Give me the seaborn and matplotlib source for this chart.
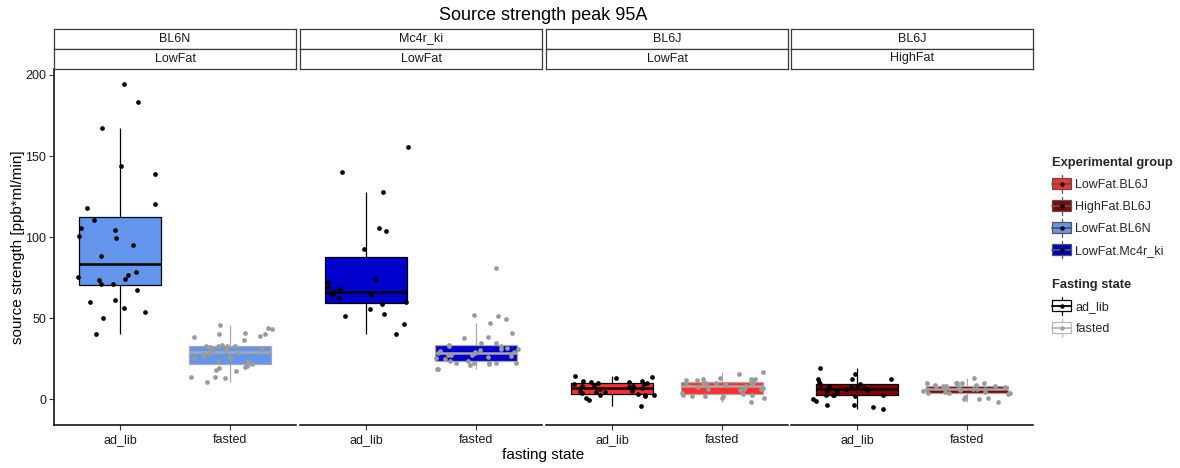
import numpy as np
import pandas as pd
import matplotlib
matplotlib.use("Agg")
import matplotlib.pyplot as plt
import seaborn as sns
from matplotlib.patches import Rectangle
from matplotlib.lines import Line2D
from matplotlib.legend_handler import HandlerBase

sns.set_theme(style="white")
plt.rcParams["font.family"] = ["Liberation Sans", "DejaVu Sans"]

# ---------------- data ----------------
states = ["ad_lib", "fasted"]
groups = ["LowFat.BL6J", "HighFat.BL6J", "LowFat.BL6N", "LowFat.Mc4r_ki"]
group_colors = ["#FF2E2E", "#8B0000", "#6495ED", "#0000CD"]
strip_top = ["BL6N", "Mc4r_ki", "BL6J", "BL6J"]
strip_bottom = ["LowFat", "LowFat", "LowFat", "HighFat"]
panel_groups = ["LowFat.BL6N", "LowFat.Mc4r_ki", "LowFat.BL6J", "HighFat.BL6J"]

bl6n_lf_adlib = [194.4, 183.1, 167.3, 144.1, 139.0, 120.5, 118.2, 110.4, 105.7, 104.4,
                 100.9, 99.3, 95.0, 88.6, 78.5, 76.7, 75.4, 74.2, 73.4, 71.3, 71.3,
                 67.2, 61.3, 60.0, 56.5, 54.1, 50.2, 40.5]
bl6n_lf_fasted = [45.8, 43.8, 43.2, 41.1, 40.1, 39.3, 40.1, 38.2, 36.6, 32.8, 32.6, 33.0,
                  33.5, 32.9, 32.1, 31.2, 31.2, 30.4, 29.2, 29.2, 28.8, 29.8, 28.0, 26.3,
                  25.3, 25.7, 26.3, 23.8, 23.6, 21.8, 21.0, 20.6, 19.3, 19.7, 18.1, 17.7,
                  13.6, 13.4, 14.0, 10.9]
mc4r_lf_adlib = [155.4, 140.0, 127.6, 105.7, 104.0, 92.7, 74.2, 72.6, 69.5, 68.2, 66.8,
                 65.2, 65.0, 64.3, 62.5, 60.0, 59.0, 55.5, 52.4, 51.2, 46.5, 40.5]
mc4r_lf_fasted = [80.8, 51.8, 49.5, 51.2, 47.1, 41.1, 38.2, 37.6, 34.5, 33.1, 33.3, 34.5,
                  32.9, 31.2, 31.9, 30.4, 29.6, 29.2, 29.2, 31.2, 28.4, 27.5, 27.5, 27.5,
                  28.4, 26.7, 25.9, 25.1, 23.8, 25.3, 23.8, 22.2, 21.6, 22.6, 22.6, 22.6,
                  22.6, 21.0, 18.7, 18.7]
bl6j_lf_adlib = [14.2, 13.5, 13.1, 11.5, 11.1, 10.7, 10.7, 9.8, 9.8, 9.4, 9.4, 9.0, 8.0,
                 8.0, 7.4, 7.0, 6.6, 6.6, 5.3, 4.9, 4.5, 4.5, 2.0, 3.9, 3.0, 3.3, 2.9,
                 2.4, 0.8, -0.2, -3.9]
bl6j_lf_fasted = [17.0, 15.4, 12.9, 12.7, 12.5, 12.3, 11.9, 11.9, 10.9, 10.9, 10.2, 9.8,
                  9.8, 9.2, 9.2, 9.2, 8.8, 8.2, 7.8, 7.2, 6.4, 6.4, 6.1, 5.7, 3.0, 3.7,
                  2.8, 3.3, 2.2, 2.0, 2.0, 1.0, 0.6, -1.9]
bl6j_hf_adlib = [19.3, 15.8, 12.3, 12.3, 12.3, 10.7, 9.6, 9.6, 9.0, 8.2, 7.6, 7.6, 7.0,
                 6.6, 6.6, 5.5, 4.9, 4.5, 2.9, 2.9, 2.9, 2.4, 2.0, 0.4, -1.3, -3.3, -3.7,
                 -4.7, -5.7]
bl6j_hf_fasted = [12.9, 10.3, 9.8, 9.8, 9.8, 9.8, 8.8, 8.8, 8.2, 8.2, 8.2, 7.8, 7.4, 6.8,
                  6.8, 6.1, 6.1, 6.1, 6.1, 5.7, 5.3, 4.7, 4.7, 4.1, 4.1, 3.7, 3.3, 1.6,
                  0.6, 0.0, 0.0, -1.5]

yticks = [0, 50, 100, 150, 200]

series = {
    ("LowFat.BL6N", "ad_lib"): bl6n_lf_adlib,
    ("LowFat.BL6N", "fasted"): bl6n_lf_fasted,
    ("LowFat.Mc4r_ki", "ad_lib"): mc4r_lf_adlib,
    ("LowFat.Mc4r_ki", "fasted"): mc4r_lf_fasted,
    ("LowFat.BL6J", "ad_lib"): bl6j_lf_adlib,
    ("LowFat.BL6J", "fasted"): bl6j_lf_fasted,
    ("HighFat.BL6J", "ad_lib"): bl6j_hf_adlib,
    ("HighFat.BL6J", "fasted"): bl6j_hf_fasted,
}
rows = []
for (g, s), vals in series.items():
    for v in vals:
        rows.append({"group": g, "state": s, "value": v})
df = pd.DataFrame(rows)

color_of = dict(zip(groups, group_colors))
edge_of = {"ad_lib": "#000000", "fasted": "#A8A8A8"}
point_of = {"ad_lib": "#000000", "fasted": "#9A9A9A"}

# ---------------- layout ----------------
W, H = 1180, 468
fig = plt.figure(figsize=(W / 100, H / 100), dpi=100)
lefts = [54, 300, 546, 791]
pw = 242
ptop, pbot = 68.5, 425
strip_h = 20

np.random.seed(3)
for i, g in enumerate(panel_groups):
    ax = fig.add_axes([lefts[i] / W, (H - pbot) / H, pw / W, (pbot - ptop) / H])
    sub_g = df[df.group == g]
    for s in states:
        sub = sub_g[sub_g.state == s]
        sns.boxplot(data=sub, x="state", y="value", order=states, ax=ax,
                    color=color_of[g], linecolor=edge_of[s], saturation=1,
                    width=0.75, linewidth=0.9, showfliers=False,
                    medianprops=dict(linewidth=1.8, color=edge_of[s]),
                    capprops=dict(visible=False))
    for s in states:
        sub = sub_g[sub_g.state == s]
        sns.stripplot(data=sub, x="state", y="value", order=states, ax=ax,
                      color=point_of[s], jitter=0.4, size=3.4, linewidth=0,
                      zorder=4)
    ax.set_xlim(-0.6, 1.6)
    ax.set_ylim(-15.8, 204)
    ax.set_xlabel("")
    ax.set_ylabel("")
    ax.set_facecolor("white")
    for sp in ["top", "right"]:
        ax.spines[sp].set_visible(False)
    ax.spines["bottom"].set_color("black")
    ax.spines["bottom"].set_linewidth(1.1)
    ax.set_xticks([0, 1])
    ax.set_xticklabels(states)
    ax.tick_params(axis="x", length=3.5, width=0.8, color="#333333", pad=3,
                   labelsize=9, labelcolor="#1A1A1A", bottom=True)
    if i == 0:
        ax.spines["left"].set_color("black")
        ax.spines["left"].set_linewidth(1.1)
        ax.set_yticks(yticks)
        ax.set_yticklabels([str(t) for t in yticks])
        ax.tick_params(axis="y", length=3.5, width=0.8, color="#333333", pad=2,
                       labelsize=9, labelcolor="#1A1A1A", left=True)
    else:
        ax.spines["left"].set_visible(False)
        ax.set_yticks(yticks)
        ax.tick_params(axis="y", left=False, labelleft=False)
    ax.grid(False)

    # strips
    for r, txt in enumerate([strip_top[i], strip_bottom[i]]):
        top_px = ptop - strip_h * (2 - r)
        sax = fig.add_axes([lefts[i] / W, (H - top_px - strip_h) / H, pw / W, strip_h / H])
        sax.set_xticks([])
        sax.set_yticks([])
        sax.set_facecolor("white")
        for sp in sax.spines.values():
            sp.set_visible(True)
            sp.set_color("#3A3A3A")
            sp.set_linewidth(0.9)
        sax.text(0.5, 0.5, txt, ha="center", va="center", fontsize=9,
                 color="#1A1A1A", transform=sax.transAxes)

# titles
fig.text(543 / W, 1 - 15 / H, "Source strength peak 95A", ha="center", va="center",
         fontsize=13, color="black")
fig.text(543 / W, 1 - 455 / H, "fasting state", ha="center", va="center",
         fontsize=11, color="black")
fig.text(18 / W, 1 - 247 / H, "source strength [ppb*ml/min]", ha="center", va="center",
         rotation=90, fontsize=11, color="black")


# ---------------- legends ----------------
class BoxKey:
    def __init__(self, fc, ec, pc):
        self.fc, self.ec, self.pc = fc, ec, pc


class BoxHandler(HandlerBase):
    def create_artists(self, legend, h, xd, yd, width, height, fontsize, trans):
        x0, y0 = -xd, -yd
        cx, cy = x0 + width / 2, y0 + height / 2
        bh = height * 0.75
        rect = Rectangle((x0, cy - bh / 2), width, bh, facecolor=h.fc,
                         edgecolor=h.ec, linewidth=0.9, transform=trans)
        wl = Line2D([cx, cx], [y0 - height * 0.12, y0 + height * 1.12], color=h.ec,
                    linewidth=0.9, transform=trans)
        med = Line2D([x0, x0 + width], [cy, cy], color=h.ec, linewidth=1.3,
                     transform=trans)
        dot = Line2D([cx], [cy], marker="o", markersize=3.2, color=h.pc,
                     markeredgewidth=0, linestyle="none", transform=trans)
        return [wl, rect, med, dot]


common = dict(loc="upper left", frameon=False, handler_map={BoxKey: BoxHandler()},
              fontsize=9, title_fontproperties={"weight": "bold", "size": 9.3},
              handlelength=1.52, handleheight=1.4, labelspacing=0.6,
              handletextpad=0.35, borderaxespad=0, borderpad=0, alignment="left")
keys1 = [BoxKey(c, "#555555", "black") for c in group_colors]
leg1 = fig.legend(keys1, groups, title="Experimental group",
                  bbox_to_anchor=(1052 / W, 1 - 157 / H), **common)
keys2 = [BoxKey("white", edge_of["ad_lib"], point_of["ad_lib"]),
         BoxKey("white", "#B5B5B5", "#A0A0A0")]
leg2 = fig.legend(keys2, states, title="Fasting state",
                  bbox_to_anchor=(1052 / W, 1 - 279 / H), **common)

fig.savefig("out.png", dpi=100, facecolor="white")
